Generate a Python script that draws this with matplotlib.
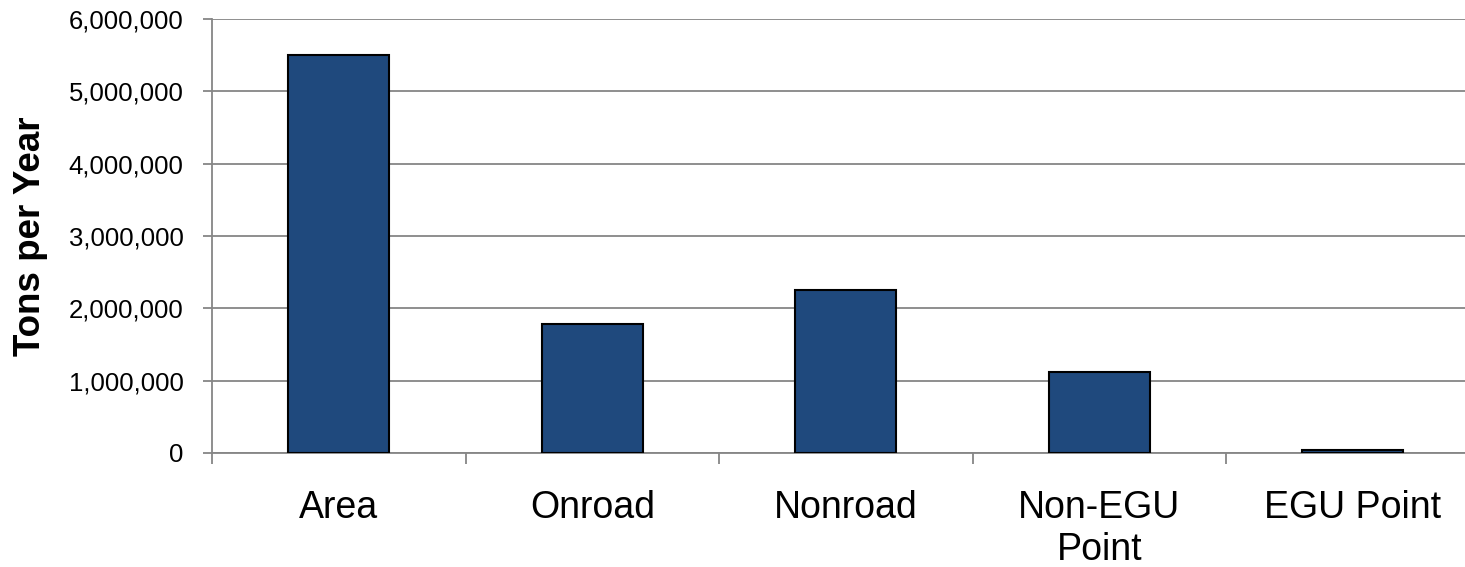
import matplotlib
matplotlib.use('Agg')
from matplotlib import pyplot as plt
from matplotlib.ticker import FuncFormatter
import numpy as np

categories = ['Area', 'Onroad', 'Nonroad', 'Non-EGU\nPoint', 'EGU Point']
tons = [5500000, 1780000, 2260000, 1115000, 40000]
yticks = [0, 1000000, 2000000, 3000000, 4000000, 5000000, 6000000]

plt.rcParams['font.family'] = ['Liberation Sans', 'DejaVu Sans']

fig = plt.figure(figsize=(14.65, 5.67), dpi=100)
ax = fig.add_axes([212 / 1465, 1 - 453 / 567, 1267.5 / 1465, (453 - 19) / 567])

x = np.arange(len(categories))
ax.bar(x, tons, width=0.4, color='#1F497D', edgecolor='black', linewidth=1.5, zorder=3)

ax.set_xlim(-0.5, len(categories) - 0.5)
ax.set_ylim(0, 6000000)
ax.set_yticks(yticks)
ax.yaxis.set_major_formatter(FuncFormatter(lambda v, p: '{:,.0f}'.format(v)))
ax.grid(axis='y', color='#868686', linewidth=1.3, zorder=0)

ax.set_xticks(np.arange(-0.5, len(categories), 1.0))
ax.set_xticklabels([])
ax.set_xticks(x, minor=True)
ax.set_xticklabels(categories, minor=True, fontsize=27, linespacing=1.2)
ax.tick_params(axis='x', which='minor', length=0, pad=27)
ax.tick_params(axis='x', which='major', length=8, width=1.3, color='#868686')
ax.tick_params(axis='y', length=6.5, width=1.3, color='#868686', labelsize=18.5, pad=14)

for s in ['top', 'right']:
    ax.spines[s].set_visible(False)
for s in ['left', 'bottom']:
    ax.spines[s].set_color('#868686')
    ax.spines[s].set_linewidth(1.3)

ax.set_ylabel('Tons per Year', fontsize=26.5, fontweight='bold')
ax.yaxis.set_label_coords(-(212 - 48) / 1267.5, 0.5)

fig.savefig('out.png', dpi=100)
